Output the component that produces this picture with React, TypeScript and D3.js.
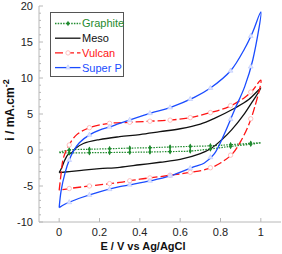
import { useEffect, useRef } from 'react';
import * as d3 from 'd3';

type Pt = [number, number];

// Cyclic voltammograms: anodic (forward) branch 0 -> 1 V, cathodic branch 1 -> 0 V
const graphiteFwd: Pt[] = [
  [0, -0.3], [0.05, 0.0], [0.15, 0.1], [0.25, 0.18], [0.35, 0.26], [0.45, 0.32],
  [0.55, 0.42], [0.65, 0.5], [0.75, 0.58], [0.85, 0.74], [0.95, 0.93], [1, 1.0],
];
const graphiteRev: Pt[] = [
  [1, 1.0], [0.95, 0.8], [0.85, 0.5], [0.75, 0.15], [0.65, -0.15], [0.55, -0.22],
  [0.45, -0.28], [0.35, -0.32], [0.25, -0.35], [0.15, -0.38], [0.05, -0.4], [0, -0.35],
];

const mesoFwd: Pt[] = [
  [0, -3.15], [0.012, -2.5], [0.028, -1.4], [0.045, -0.6], [0.06, -0.45], [0.08, 0.2],
  [0.12, 0.9], [0.2, 1.45], [0.3, 1.85], [0.4, 2.15], [0.5, 2.55], [0.6, 2.95],
  [0.7, 3.6], [0.77, 4.4], [0.87, 5.8], [0.94, 7.0], [1, 8.6],
];
const mesoRev: Pt[] = [
  [1, 8.6], [0.96, 6.8], [0.92, 5.1], [0.855, 2.8], [0.805, 1.4], [0.755, 0.25],
  [0.7, -0.5], [0.6, -1.3], [0.5, -1.7], [0.4, -2.05], [0.3, -2.4], [0.2, -2.6],
  [0.12, -2.8], [0.05, -3.0], [0, -3.15],
];

const vulcanFwd: Pt[] = [
  [0, -5.6], [0.01, -3.2], [0.02, -1.2], [0.045, 0.5], [0.086, 2.1], [0.15, 3.1],
  [0.25, 3.7], [0.35, 3.85], [0.45, 4.0], [0.55, 4.15], [0.65, 4.5], [0.75, 5.2],
  [0.84, 6.0], [0.92, 7.3], [0.96, 8.3], [1, 9.7],
];
const vulcanRev: Pt[] = [
  [1, 9.7], [0.97, 6.0], [0.94, 3.5], [0.9, 1.2], [0.86, -0.5], [0.8, -1.8],
  [0.74, -2.6], [0.65, -3.1], [0.5, -3.7], [0.4, -4.05], [0.3, -4.5], [0.15, -5.0],
  [0.05, -5.35], [0, -5.6],
];

const superPFwd: Pt[] = [
  [0, -8.0], [0.01, -5.6], [0.03, -3.1], [0.05, -1.4], [0.07, -0.2], [0.1, 1.0],
  [0.15, 2.1], [0.2, 2.75], [0.25, 3.2], [0.3, 3.7], [0.45, 5.1], [0.55, 5.9],
  [0.67, 7.3], [0.75, 8.6], [0.85, 11.0], [0.92, 14.1], [0.96, 16.4], [1, 19.2],
];
const superPRev: Pt[] = [
  [1, 19.2], [0.96, 12.5], [0.92, 8.8], [0.87, 5.6], [0.82, 2.3], [0.77, -0.5],
  [0.72, -1.8], [0.67, -2.3], [0.55, -3.6], [0.45, -4.3], [0.3, -5.1], [0.2, -5.8],
  [0.1, -6.7], [0.03, -7.5], [0, -8.0],
];

const xTicks = [0, 0.2, 0.4, 0.6, 0.8, 1];
const yTicks = [-10, -5, 0, 5, 10, 15, 20];
const markerXs = [0.05, 0.15, 0.25, 0.35, 0.45, 0.55, 0.65, 0.75, 0.85, 0.95];

const W = 282;
const H = 254;
const AXIS = '#b8b8b8';

export default function App() {
  const svgRef = useRef<SVGSVGElement>(null);

  useEffect(() => {
    const svg = d3.select(svgRef.current);
    svg.selectAll('*').remove();
    svg.style('font-family', 'Arial, "Liberation Sans", sans-serif');

    const x = d3.scaleLinear().domain([-0.1, 1.1]).range([39, 281]);
    const y = d3.scaleLinear().domain([-10, 20]).range([222, 6]);

    const line = d3
      .line<Pt>()
      .x(d => x(d[0]))
      .y(d => y(d[1]))
      .curve(d3.curveCatmullRom.alpha(0.5));

    // interpolate y on a branch (for marker placement)
    const yAt = (branch: Pt[], xv: number) => {
      const pts = [...branch].sort((a, b) => a[0] - b[0]);
      for (let i = 0; i < pts.length - 1; i++) {
        if (xv >= pts[i][0] && xv <= pts[i + 1][0]) {
          const t = (xv - pts[i][0]) / (pts[i + 1][0] - pts[i][0] || 1);
          return pts[i][1] + t * (pts[i + 1][1] - pts[i][1]);
        }
      }
      return pts[pts.length - 1][1];
    };

    // Axes
    const g = svg.append('g');
    g.append('line')
      .attr('x1', 39).attr('x2', 39).attr('y1', 6).attr('y2', 222)
      .attr('stroke', AXIS);
    g.append('line')
      .attr('x1', 39).attr('x2', 281).attr('y1', 222).attr('y2', 222)
      .attr('stroke', AXIS);

    d3.range(-10, 21, 1).forEach(v => {
      const major = v % 5 === 0;
      g.append('line')
        .attr('x1', 39).attr('x2', 39 + (major ? 4 : 2))
        .attr('y1', y(v)).attr('y2', y(v))
        .attr('stroke', AXIS);
    });
    yTicks.forEach(v => {
      g.append('text')
        .attr('x', 33).attr('y', y(v)).attr('dy', '0.36em')
        .attr('text-anchor', 'end').attr('font-size', 11).attr('fill', '#222')
        .text(v);
    });
    xTicks.forEach(v => {
      g.append('line')
        .attr('x1', x(v)).attr('x2', x(v)).attr('y1', 222).attr('y2', 218)
        .attr('stroke', AXIS);
      g.append('text')
        .attr('x', x(v)).attr('y', 235.5)
        .attr('text-anchor', 'middle').attr('font-size', 11).attr('fill', '#222')
        .text(v);
    });

    svg.append('text')
      .attr('x', 143).attr('y', 250)
      .attr('text-anchor', 'middle').attr('font-size', 11).attr('font-weight', 'bold')
      .attr('fill', '#111')
      .text('E / V vs Ag/AgCl');

    const yl = svg.append('text')
      .attr('transform', 'translate(14,110) rotate(-90)')
      .attr('text-anchor', 'middle').attr('font-size', 12).attr('font-weight', 'bold')
      .attr('fill', '#111');
    yl.append('tspan').text('i / mA.cm');
    yl.append('tspan').attr('dy', -5).attr('font-size', 9).text('-2');

    const plot = svg.append('g');

    // Graphite
    plot.append('path')
      .attr('d', line([...graphiteFwd, ...graphiteRev.slice(1)]))
      .attr('fill', 'none').attr('stroke', '#1f8a2e').attr('stroke-width', 1.2)
      .attr('stroke-dasharray', '1.5,1.2');

    // Meso
    plot.append('path')
      .attr('d', line([...mesoFwd, ...mesoRev.slice(1)]))
      .attr('fill', 'none').attr('stroke', '#111').attr('stroke-width', 1.3);

    // Vulcan
    plot.append('path')
      .attr('d', line([...vulcanFwd, ...vulcanRev.slice(1)]))
      .attr('fill', 'none').attr('stroke', '#ff1414').attr('stroke-width', 1.3)
      .attr('stroke-dasharray', '8,3');

    // Super P
    plot.append('path')
      .attr('d', line([...superPFwd, ...superPRev.slice(1)]))
      .attr('fill', 'none').attr('stroke', '#1a4cff').attr('stroke-width', 1.3);

    // Markers
    markerXs.forEach(mx => {
      [vulcanFwd, vulcanRev].forEach(br => {
        plot.append('circle')
          .attr('cx', x(mx)).attr('cy', y(yAt(br, mx))).attr('r', 2.2)
          .attr('fill', '#fff').attr('stroke', '#ffb0b0').attr('stroke-width', 0.8);
      });
      [superPFwd, superPRev].forEach(br => {
        plot.append('path')
          .attr('transform', `translate(${x(mx)},${y(yAt(br, mx))})`)
          .attr('d', d3.symbol(d3.symbolTriangle, 10)())
          .attr('fill', '#dde4ff').attr('stroke', '#b8c6ff').attr('stroke-width', 0.6);
      });
      const y1 = y(yAt(graphiteFwd, mx));
      const y2 = y(yAt(graphiteRev, mx));
      plot.append('line')
        .attr('x1', x(mx)).attr('x2', x(mx))
        .attr('y1', Math.min(y1, y2) - 2).attr('y2', Math.max(y1, y2) + 2)
        .attr('stroke', '#1f8a2e').attr('stroke-width', 1);
      [y1, y2].forEach(yy => {
        plot.append('path')
          .attr('transform', `translate(${x(mx)},${yy})`)
          .attr('d', d3.symbol(d3.symbolDiamond, 9)())
          .attr('fill', '#1f8a2e');
      });
    });

    // Legend
    const legend = svg.append('g');
    legend.append('rect')
      .attr('x', 50.5).attr('y', 12.5).attr('width', 73).attr('height', 64)
      .attr('fill', '#fff').attr('stroke', '#555').attr('stroke-width', 1);
    const items = [
      { label: 'Graphite', color: '#1f8a2e', dash: '1.5,1.2', marker: 'diamond' },
      { label: 'Meso', color: '#111', dash: null, marker: null },
      { label: 'Vulcan', color: '#ff1414', dash: '8,3', marker: 'circle' },
      { label: 'Super P', color: '#1a4cff', dash: null, marker: 'triangle' },
    ];
    items.forEach((it, i) => {
      const cy = 23.5 + i * 14.7;
      legend.append('line')
        .attr('x1', 55).attr('x2', 80.5).attr('y1', cy).attr('y2', cy)
        .attr('stroke', it.color).attr('stroke-width', 1.3)
        .attr('stroke-dasharray', it.dash);
      if (it.marker === 'diamond') {
        legend.append('path')
          .attr('transform', `translate(68,${cy})`)
          .attr('d', d3.symbol(d3.symbolDiamond, 9)())
          .attr('fill', it.color);
      } else if (it.marker === 'circle') {
        legend.append('circle')
          .attr('cx', 68).attr('cy', cy).attr('r', 2.2)
          .attr('fill', '#fff').attr('stroke', '#ffb0b0').attr('stroke-width', 0.8);
      } else if (it.marker === 'triangle') {
        legend.append('path')
          .attr('transform', `translate(68,${cy})`)
          .attr('d', d3.symbol(d3.symbolTriangle, 10)())
          .attr('fill', '#dde4ff').attr('stroke', '#b8c6ff').attr('stroke-width', 0.6);
      }
      legend.append('text')
        .attr('x', 82).attr('y', cy).attr('dy', '0.36em')
        .attr('font-size', 11).attr('fill', it.color)
        .text(it.label);
    });
  }, []);

  return (
    <div style={{ position: 'absolute', left: 0, top: 0 }}>
      <svg ref={svgRef} width={W} height={H} style={{ display: 'block', background: '#fff' }} />
    </div>
  );
}
